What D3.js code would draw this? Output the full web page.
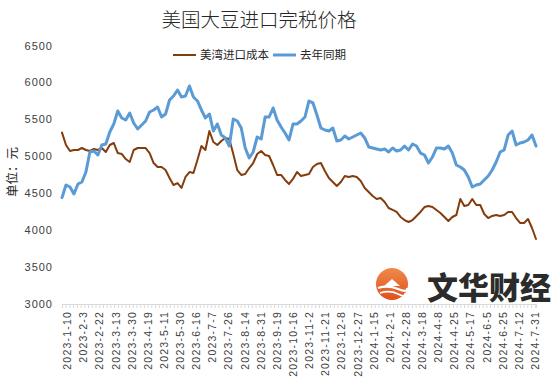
<!DOCTYPE html>
<html>
<head>
<meta charset="utf-8">
<script src="https://cdn.jsdelivr.net/npm/d3@7"></script>
<style>
body { margin: 0; background: #fff; }
#svg-container { width: 558px; height: 390px; }
</style>
</head>
<body>
<div id="svg-container"></div>
<script>
// category axis: trading days, one label every 13 days
var tickLabels = ["2023-1-10","2023-2-3","2023-2-22","2023-3-13","2023-3-30","2023-4-19","2023-5-11","2023-5-30",
  "2023-6-16","2023-7-7","2023-7-26","2023-8-14","2023-8-31","2023-9-19","2023-10-16","2023-11-2","2023-11-21",
  "2023-12-8","2023-12-27","2024-1-15","2024-2-1","2024-2-28","2024-3-18","2024-4-8","2024-4-25","2024-5-17",
  "2024-6-5","2024-6-25","2024-7-12","2024-7-31"];
var tradingDays = 383;
var labelEvery = 13;

var yTicks = [3000, 3500, 4000, 4500, 5000, 5500, 6000, 6500];

var seriesNames = ["美湾进口成本", "去年同期"];

// values, evenly spaced across the day axis
var importCost = [
  5320,5153,5072,5085,5085,5112,5085,5072,5099,5085,
  5112,5058,5153,5180,5044,5031,4963,4923,5085,5112,
  5112,5112,5044,4909,4855,4855,4814,4706,4611,4638,
  4571,4720,4787,4774,4950,5139,5085,5342,5193,5153,
  5207,5248,5234,5031,4814,4747,4760,4841,4909,5031,
  5072,5017,5004,4882,4747,4747,4679,4625,4693,4787,
  4733,4747,4760,4855,4896,4909,4801,4706,4652,4598,
  4652,4733,4720,4733,4720,4665,4571,4517,4462,4422,
  4435,4381,4300,4273,4246,4178,4137,4110,4137,4192,
  4246,4313,4327,4313,4273,4232,4178,4124,4178,4205,
  4422,4327,4340,4422,4340,4340,4219,4164,4192,4205,
  4192,4205,4246,4246,4164,4097,4097,4151,4029,3880];

var lastYear = [
  4440,4611,4584,4489,4625,4652,4787,5058,5072,5017,
  5153,5166,5329,5437,5613,5518,5491,5586,5451,5370,
  5424,5478,5600,5627,5667,5532,5573,5762,5816,5898,
  5803,5816,5952,5803,5749,5627,5518,5573,5342,5437,
  5288,5248,5139,5505,5478,5383,5112,4977,5058,5261,
  5234,5532,5532,5654,5491,5397,5315,5221,5437,5437,
  5478,5532,5749,5722,5559,5383,5356,5342,5383,5207,
  5221,5275,5234,5261,5288,5315,5248,5126,5112,5099,
  5085,5099,5058,5112,5072,5085,5139,5085,5166,5139,
  5044,5017,4909,4990,5112,5112,5099,5139,5044,4882,
  4855,4814,4720,4584,4611,4625,4679,4733,4814,4923,
  5058,5085,5288,5342,5153,5180,5193,5221,5288,5139];

var width = 558;
var height = 390;
var plot = { left: 62, right: 536, top: 45.5, bottom: 304 };

var colors = ["#843c0c", "#5b9bd5"];
var widths = [2, 3];

var cjk = "'Noto Sans CJK SC', 'Noto Sans', sans-serif";
var latin = "'Liberation Sans', Arial, sans-serif";

var svg = d3.select("#svg-container")
            .append("svg")
            .attr("width", width)
            .attr("height", height);

var dayX = d3.scaleLinear()
             .domain([0, tradingDays - 1])
             .range([plot.left, plot.right]);

var sampleX = d3.scaleLinear()
                .domain([0, importCost.length - 1])
                .range([plot.left, plot.right]);

var y = d3.scaleLinear()
          .domain([3000, 6500])
          .range([plot.bottom, plot.top]);

// title
svg.append("text")
   .attr("x", 259)
   .attr("y", 27)
   .attr("text-anchor", "middle")
   .style("font-family", cjk)
   .style("font-size", "19.5px")
   .style("font-weight", "300")
   .attr("fill", "#262626")
   .text("美国大豆进口完税价格");

// y axis labels
var yAxis = svg.append("g")
   .attr("transform", "translate(" + plot.left + ",0)")
   .call(d3.axisLeft(y)
           .tickValues(yTicks)
           .tickSize(0)
           .tickPadding(9)
           .tickFormat(d3.format("d")));

yAxis.select(".domain").remove();
yAxis.selectAll("text")
     .style("font-family", latin)
     .style("font-size", "11px")
     .style("letter-spacing", "1px")
     .attr("fill", "#404040");

svg.append("text")
   .attr("transform", "translate(17,172) rotate(-90)")
   .attr("text-anchor", "middle")
   .style("font-family", cjk)
   .style("font-size", "12.5px")
   .attr("fill", "#262626")
   .text("单位：元");

// x axis line + small category ticks
var xTicks = svg.append("g")
   .attr("transform", "translate(0," + plot.bottom + ")")
   .call(d3.axisBottom(dayX)
           .tickValues(d3.range(0, tradingDays, 3))
           .tickSize(4)
           .tickFormat(""));

xTicks.select(".domain").attr("stroke", "#d9d9d9");
xTicks.selectAll(".tick line").attr("stroke", "#d9d9d9");

// rotated date labels
var xLabels = svg.append("g")
   .attr("transform", "translate(0," + plot.bottom + ")")
   .call(d3.axisBottom(dayX)
           .tickValues(tickLabels.map(function(d, i) { return i * labelEvery; }))
           .tickSize(0)
           .tickFormat(function(d, i) { return tickLabels[i]; }));

xLabels.select(".domain").remove();
xLabels.selectAll("text")
       .attr("transform", "rotate(-90)")
       .attr("text-anchor", "end")
       .attr("x", -7)
       .attr("y", 5)
       .attr("dy", "0.35em")
       .style("font-family", latin)
       .style("font-size", "10.5px")
       .style("letter-spacing", "1.2px")
       .attr("fill", "#404040");

// lines
var line = d3.line()
             .x(function(d, i) { return sampleX(i); })
             .y(function(d) { return y(d); });

[importCost, lastYear].forEach(function(series, i) {
  svg.append("path")
     .datum(series)
     .attr("class", "line")
     .attr("fill", "none")
     .attr("stroke", colors[i])
     .attr("stroke-width", widths[i])
     .attr("stroke-linejoin", "round")
     .attr("stroke-linecap", "round")
     .attr("d", line);
});

// legend
var legendX = [173, 273];
var legend = svg.append("g")
                .selectAll("g")
                .data(seriesNames)
                .enter()
                .append("g")
                .attr("transform", function(d, i) { return "translate(" + legendX[i] + ",55)"; });

legend.append("line")
      .attr("x1", 0)
      .attr("x2", 23)
      .attr("stroke", function(d, i) { return colors[i]; })
      .attr("stroke-width", function(d, i) { return widths[i]; });

legend.append("text")
      .attr("x", 27)
      .attr("dy", "0.35em")
      .style("font-family", cjk)
      .style("font-size", "11.5px")
      .attr("fill", "#262626")
      .text(function(d) { return d; });

// watermark
var mark = svg.append("g").attr("transform", "translate(392,284)");

var grad = svg.append("defs").append("linearGradient")
              .attr("id", "logoGrad")
              .attr("x1", 0).attr("y1", 0).attr("x2", 0).attr("y2", 1);
grad.append("stop").attr("offset", "0%").attr("stop-color", "#f08a4b");
grad.append("stop").attr("offset", "100%").attr("stop-color", "#e0501f");

mark.append("circle")
    .attr("r", 16)
    .attr("fill", "url(#logoGrad)");

mark.append("path")
    .attr("d", "M-8,2 L0,-5 L8,2 Z")
    .attr("fill", "#fff");

mark.append("path")
    .attr("d", "M-14,4 Q-4,1 6,5 T15,4")
    .attr("fill", "none")
    .attr("stroke", "#fff")
    .attr("stroke-width", 2.2);

mark.append("path")
    .attr("d", "M-12,9 Q-2,6 6,10 T13,9")
    .attr("fill", "none")
    .attr("stroke", "#fff")
    .attr("stroke-width", 1.8);

svg.append("text")
   .attr("x", 427)
   .attr("y", 299)
   .style("font-family", cjk)
   .style("font-size", "31px")
   .style("font-weight", "900")
   .attr("fill", "#2b2b2b")
   .text("文华财经");
</script>
</body>
</html>
